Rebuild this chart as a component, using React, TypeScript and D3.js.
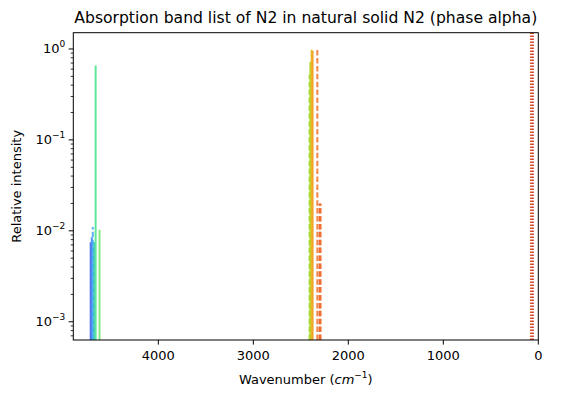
import React from "react";
import * as d3 from "d3";

const bandWavenumbers = [4712, 4700, 4690, 4676, 4660, 4619, 2408, 2400, 2386, 2376, 2326, 2302, 2292, 78, 58];
const bandIntensities = [0.0075, 0.0085, 0.011, 0.0075, 0.66, 0.0103, 0.52, 0.72, 0.98, 0.95, 1.02, 0.02, 0.02, 10, 10];
const bandColors = ["#4a68e8", "#3c86f0", "#4aa8f4", "#30c4cc", "#4ee48e", "#78e878", "#98d830", "#b4d428", "#e8b818", "#f0a020", "#f47a34", "#ec5a22", "#f06a2a", "#e04414", "#c82010"];
const bandStyles = ["solid", "solid", "dashed", "solid", "solid", "solid", "dashed", "solid", "solid", "solid", "dashed", "dashed", "dashed", "dotted", "dotted"];

const xTicks = [4000, 3000, 2000, 1000, 0];
const yTickExps = [0, -1, -2, -3];

const W = 561, H = 399;
const L = 73.3, R = 538.3, T = 32.7, B = 340;

export default function App() {
  const x = d3.scaleLinear().domain([4895, 0]).range([L, R]);
  const y = d3.scaleLog().domain([6.3e-4, 1.51]).range([B, T]);
  const minor: number[] = [];
  for (let e = -4; e <= 0; e++) {
    for (let m = 2; m <= 9; m++) {
      const v = m * Math.pow(10, e);
      if (v >= 6.3e-4 && v <= 1.51) minor.push(v);
    }
  }
  const dash = (s: string) => (s === "dashed" ? "5.5,2.4" : s === "dotted" ? "1.5,1.5" : undefined);
  const font = "DejaVu Sans, sans-serif";
  return (
    <svg width={W} height={H} style={{ position: "absolute", left: 0, top: 0, background: "#fff" }} fontFamily={font}>
      <defs>
        <clipPath id="plotclip">
          <rect x={L} y={T} width={R - L} height={B - T} />
        </clipPath>
      </defs>
      <g clipPath="url(#plotclip)">
        {bandWavenumbers.map((w, i) => (
          <line
            key={i}
            x1={x(w)}
            x2={x(w)}
            y1={B}
            y2={y(Math.min(bandIntensities[i], 100))}
            stroke={bandColors[i]}
            strokeWidth={2}
            strokeDasharray={dash(bandStyles[i])}
            opacity={0.9}
          />
        ))}
      </g>
      <rect x={L} y={T} width={R - L} height={B - T} fill="none" stroke="#000" strokeWidth={1} />
      {xTicks.map((t) => (
        <g key={t}>
          <line x1={x(t)} x2={x(t)} y1={B} y2={B + 4.6} stroke="#000" />
          <text x={x(t)} y={B + 20} fontSize={13} textAnchor="middle" fill="#000">{t}</text>
        </g>
      ))}
      {yTickExps.map((e) => (
        <g key={e}>
          <line x1={L - 4.6} x2={L} y1={y(Math.pow(10, e))} y2={y(Math.pow(10, e))} stroke="#000" />
          <text x={L - 8} y={y(Math.pow(10, e)) + 4.5} fontSize={13} textAnchor="end" fill="#000">
            10<tspan fontSize={9} dy={-6}>{e === 0 ? "0" : "\u2212" + Math.abs(e)}</tspan>
          </text>
        </g>
      ))}
      {minor.map((v, i) => (
        <line key={i} x1={L - 2.6} x2={L} y1={y(v)} y2={y(v)} stroke="#000" strokeWidth={0.8} />
      ))}
      <text x={(L + R) / 2} y={23} fontSize={15.6} textAnchor="middle" fill="#000">
        Absorption band list of N2 in natural solid N2 (phase alpha)
      </text>
      <text x={(L + R) / 2} y={384} fontSize={13} textAnchor="middle" fill="#000">
        Wavenumber (<tspan fontStyle="italic">cm</tspan><tspan fontSize={9} dy={-6}>{"\u22121"}</tspan><tspan dy={6}>)</tspan>
      </text>
      <text transform={`translate(21,${(T + B) / 2}) rotate(-90)`} fontSize={13} textAnchor="middle" fill="#000">
        Relative intensity
      </text>
    </svg>
  );
}
